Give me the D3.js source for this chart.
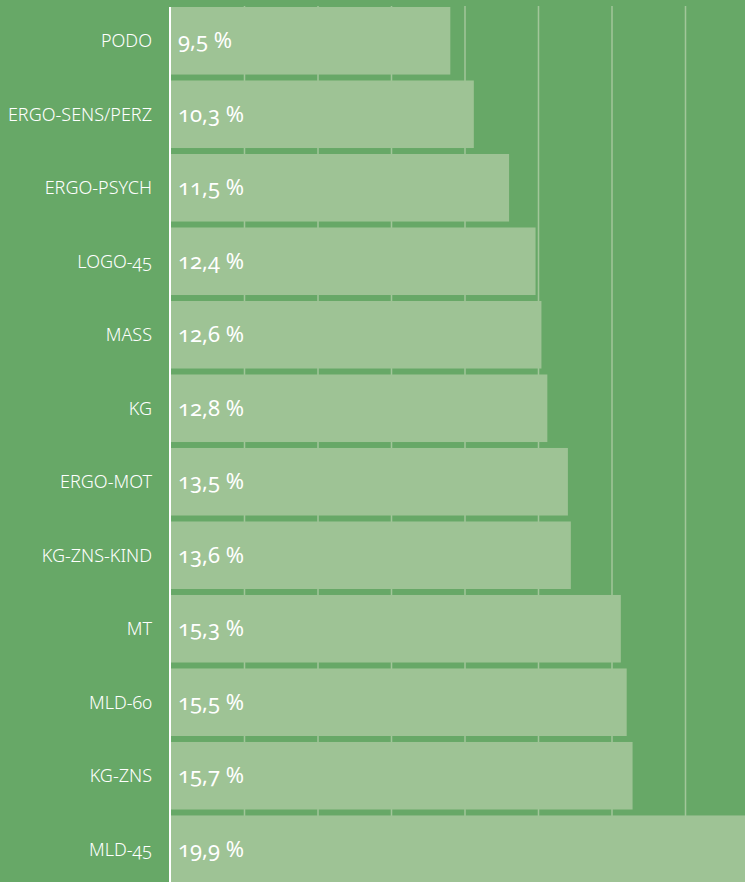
<!DOCTYPE html>
<html>
<head>
<meta charset="utf-8">
<script src="https://cdn.jsdelivr.net/npm/d3@7"></script>
<style>
  html, body { margin: 0; padding: 0; background: #67a867; overflow: hidden; }
  text { font-family: "Noto Sans", "Open Sans", sans-serif; font-variant-numeric: oldstyle-nums; fill: #fff; }
  .cat { font-size: 18px; font-weight: 300; }
  .val { font-size: 22px; font-weight: 400; }
</style>
</head>
<body>
<div id="chart"></div>
<script>
// categories top to bottom
var categories = ["PODO", "ERGO-SENS/PERZ", "ERGO-PSYCH", "LOGO-45", "MASS", "KG",
    "ERGO-MOT", "KG-ZNS-KIND", "MT", "MLD-60", "KG-ZNS", "MLD-45"];
// share in percent
var values = [9.5, 10.3, 11.5, 12.4, 12.6, 12.8, 13.5, 13.6, 15.3, 15.5, 15.7, 19.9];
// vertical gridlines
var gridTicks = [2.5, 5, 7.5, 10, 12.5, 15, 17.5];

var width = 745, height = 882;
var axisX = 171;

var svg = d3.select("#chart")
    .append("svg")
    .attr("width", width)
    .attr("height", height);

var x = d3.scaleLinear()
    .domain([0, 20])
    .range([axisX, axisX + 588]);

var y = d3.scaleBand()
    .domain(categories)
    .range([7, 883])
    .paddingInner(0.081)
    .paddingOuter(0);

// gridlines behind the bars
svg.append("g")
    .selectAll("line")
    .data(gridTicks)
    .enter().append("line")
    .attr("x1", function (d) { return x(d); })
    .attr("x2", function (d) { return x(d); })
    .attr("y1", 6)
    .attr("y2", height)
    .attr("stroke", "#a2c69a")
    .attr("stroke-width", 1.5);

// bars
svg.append("g")
    .selectAll("rect")
    .data(values)
    .enter().append("rect")
    .attr("x", x(0))
    .attr("y", function (d, i) { return y(categories[i]); })
    .attr("width", function (d) { return x(d) - x(0); })
    .attr("height", y.bandwidth())
    .attr("fill", "#9ec395");

// axis line
svg.append("line")
    .attr("x1", axisX - 1)
    .attr("x2", axisX - 1)
    .attr("y1", 7)
    .attr("y2", height)
    .attr("stroke", "#fff")
    .attr("stroke-width", 2);

// category labels
svg.append("g")
    .selectAll("text")
    .data(categories)
    .enter().append("text")
    .attr("class", "cat")
    .attr("x", axisX - 19)
    .attr("y", function (d) { return y(d) + y.bandwidth() / 2; })
    .attr("dy", "0.36em")
    .attr("text-anchor", "end")
    .text(function (d) { return d; });

// value labels
svg.append("g")
    .selectAll("text")
    .data(values)
    .enter().append("text")
    .attr("class", "val")
    .attr("x", axisX + 7)
    .attr("y", function (d, i) { return y(categories[i]) + y.bandwidth() / 2; })
    .attr("dy", "0.34em")
    .text(function (d) { return d.toFixed(1).replace(".", ",") + " %"; });
</script>
</body>
</html>
